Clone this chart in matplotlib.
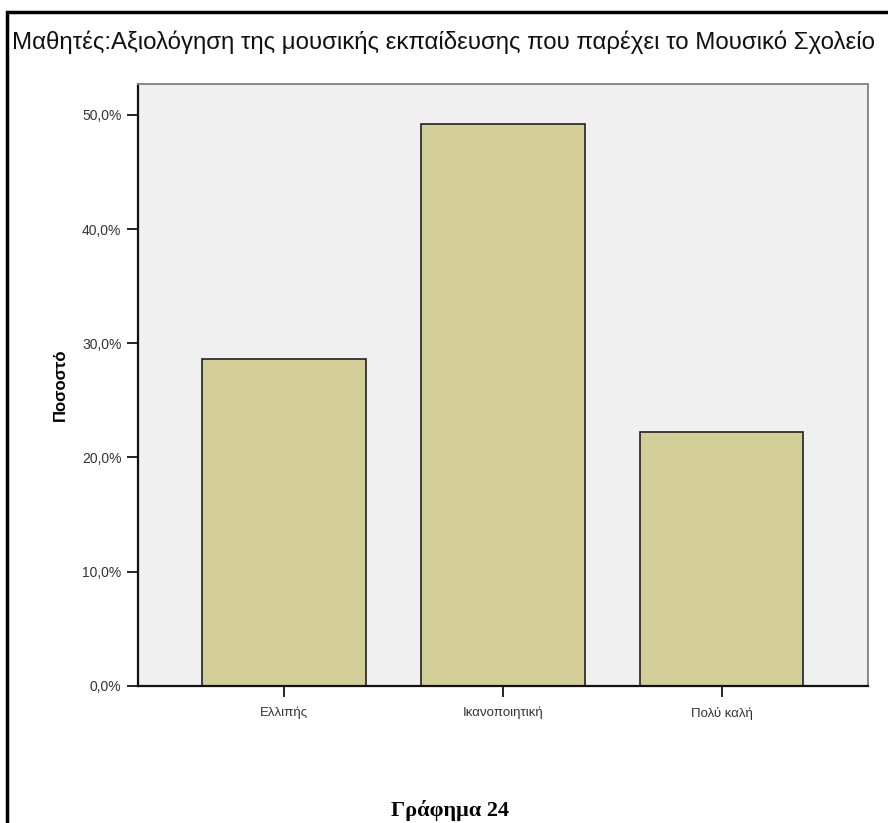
import matplotlib
matplotlib.use("Agg")
import matplotlib.pyplot as plt
from matplotlib.patches import Rectangle
from matplotlib.ticker import FuncFormatter

categories = ["Ελλιπής", "Ικανοποιητική", "Πολύ καλή"]
percent = [28.6, 49.2, 22.2]
yticks = [0, 10, 20, 30, 40, 50]

plt.rcParams["font.family"] = ["Liberation Sans", "DejaVu Sans"]

fig = plt.figure(figsize=(8.88, 8.23), dpi=100)
ax = fig.add_axes([0.1554, 0.1665, 0.822, 0.7315])
ax.set_facecolor("#f0f0f0")

x = range(len(categories))
ax.bar(x, percent, width=0.75, color="#d3ce97", edgecolor="#222222", linewidth=1.2, zorder=2)

ax.set_xlim(-0.67, 2.67)
ax.set_ylim(0, 52.7)
ax.set_xticks(list(x))
ax.set_xticklabels(categories, fontsize=9.5, color="#333333")
ax.set_yticks(yticks)
ax.yaxis.set_major_formatter(FuncFormatter(lambda v, p: ("%.1f%%" % v).replace(".", ",")))
ax.tick_params(axis="y", labelsize=10, labelcolor="#333333", length=8, width=1.2, pad=4)
ax.tick_params(axis="x", length=8, width=1.2, pad=7)

for s in ["left", "bottom"]:
    ax.spines[s].set_linewidth(1.6)
    ax.spines[s].set_color("#111111")
for s in ["top", "right"]:
    ax.spines[s].set_linewidth(1.4)
    ax.spines[s].set_color("#888888")

ax.set_ylabel("Ποσοστό", fontsize=12, fontweight="bold", labelpad=10)

fig.text(0.013, 0.949, "Μαθητές:Αξιολόγηση της μουσικής εκπαίδευσης που παρέχει το Μουσικό Σχολείο",
         fontsize=17.3, ha="left", va="center", color="#111111")

fig.text(0.507, 0.003, "Γράφημα 24", fontsize=16, fontweight="bold",
         family=["Liberation Serif", "DejaVu Serif"], ha="center", va="bottom")

fig.patches.append(Rectangle((0.008, -0.1), 1.2, 1.0855, transform=fig.transFigure,
                             fill=False, edgecolor="black", linewidth=2.5))

fig.savefig("out.png", dpi=100)
